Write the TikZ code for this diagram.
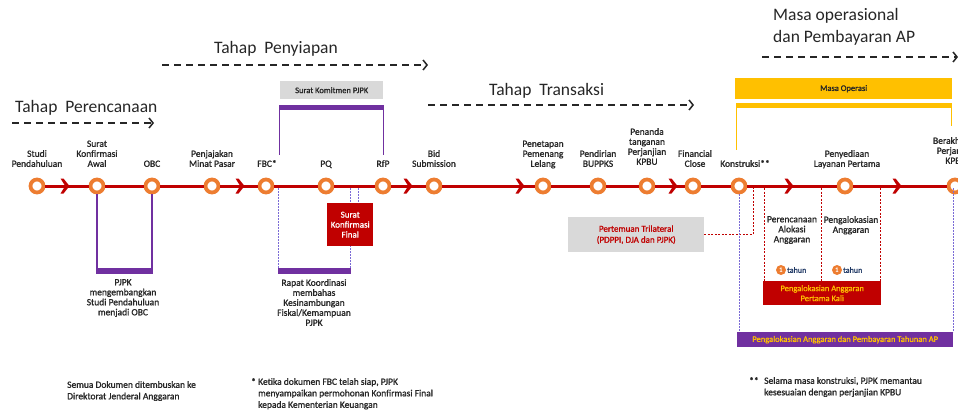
\documentclass[tikz,border=0pt]{standalone}
\usepackage{fontspec}
\setmainfont{Carlito}
\newfontfamily\labelfont[FakeBold=1.2]{Carlito}
\usetikzlibrary{arrows.meta}

\definecolor{ringorange}{HTML}{ED7D31}
\definecolor{linered}{HTML}{C00000}
\definecolor{purp}{HTML}{7030A0}
\definecolor{dotpurp}{HTML}{7B6BD6}
\definecolor{gold}{HTML}{FFC000}
\definecolor{greybox}{HTML}{D9D9D9}
\definecolor{txt}{HTML}{262626}
\definecolor{navy}{HTML}{1F3864}

\tikzset{
  chev/.pic={\fill[linered] (-4.5,-7.5) -- (-1.5,-7.5) -- (4.5,0) -- (-1.5,7.5) -- (-4.5,7.5) -- (0.2,0) -- cycle;}
}

\begin{document}
\begin{tikzpicture}[x=1pt,y=-1pt,
  milestone/.style={circle,draw=ringorange,line width=3.8pt,fill=white,minimum size=13pt,inner sep=0pt},
  steplabel/.style={anchor=south,align=center,inner sep=0pt,text depth=0pt,font=\labelfont\fontsize{9.5}{10}\selectfont,text=txt},
  note/.style={align=center,inner sep=0pt,font=\labelfont\fontsize{9.5}{10}\selectfont,text=txt},
  footnote/.style={anchor=north west,align=left,inner sep=0pt,font=\labelfont\fontsize{9.5}{11.5}\selectfont,text=txt},
  heading/.style={anchor=base west,inner sep=0pt,font=\fontsize{17.5}{21}\selectfont,text=black!85},
  phase/.style={draw=black!85,line width=1.5pt,dash pattern=on 7pt off 5pt,-{Straight Barb[length=4pt,width=10pt]}},
  timeline/.style={draw=linered,line width=3pt},
  bar/.style={inner sep=0pt,anchor=north west},
  labelbox/.style={inner sep=0pt,anchor=north west,align=center},
  purpline/.style={draw=purp,line width=1.3pt},
  goldline/.style={draw=gold,line width=1.3pt},
  purpledot/.style={draw=dotpurp,line width=0.8pt,dash pattern=on 1.6pt off 1.4pt},
  reddash/.style={draw=linered,line width=0.9pt,dash pattern=on 2pt off 1.5pt},
  badge/.style={circle,fill=ringorange,minimum size=10pt,inner sep=0pt,text=white,font=\fontsize{7}{7}\selectfont\bfseries},
  years/.style={anchor=west,inner sep=0pt,xshift=0.8pt,text=navy,font=\labelfont\fontsize{8}{9}\selectfont}
]
\useasboundingbox (0,0) rectangle (958,412);
\clip (0,0) rectangle (958,412);

% ---------- phase headings ----------
\node[heading] (hplan) at (15,112) {Tahap\ \ Perencanaan};
\node[heading] (hprep) at (214,54) {Tahap\ \ Penyiapan};
\node[heading] (htrans) at (489,95) {Tahap\ \ Transaksi};
\node[heading] (hops1) at (773,21) {Masa operasional};
\node[heading] (hops2) at (773,43) {dan Pembayaran AP};

\coordinate (planA) at (12,123);  \coordinate (planB) at (154,123);
\coordinate (prepA) at (162,65);  \coordinate (prepB) at (428,65);
\coordinate (transA) at (428,105); \coordinate (transB) at (694,105);
\coordinate (opsA) at (762,57);   \coordinate (opsB) at (958,57);
\draw[phase] (planA) -- (planB);
\draw[phase] (prepA) -- (prepB);
\draw[phase] (transA) -- (transB);
\draw[phase] (opsA) -- (opsB);

% ---------- milestones ----------
\node[milestone] (s1) at (37,186) {};
\node[milestone] (s2) at (97,186) {};
\node[milestone] (s3) at (152,186) {};
\node[milestone] (s4) at (212,186) {};
\node[milestone] (s5) at (266,186) {};
\node[milestone] (s6) at (326,186) {};
\node[milestone] (s7) at (383,186) {};
\node[milestone] (s8) at (434,186) {};
\node[milestone] (s9) at (543,186) {};
\node[milestone] (s10) at (598,186) {};
\node[milestone] (s11) at (647,186) {};
\node[milestone] (s12) at (693,186) {};
\node[milestone] (s13) at (739,186) {};
\node[milestone] (s14) at (845,186) {};
\node[milestone] (s15) at (955,186) {};

\draw[timeline] (s1) -- (s2);
\draw[timeline] (s2) -- (s3);
\draw[timeline] (s3) -- (s4);
\draw[timeline] (s4) -- (s5);
\draw[timeline] (s5) -- (s6);
\draw[timeline] (s6) -- (s7);
\draw[timeline] (s7) -- (s8);
\draw[timeline] (s8) -- (s9);
\draw[timeline] (s9) -- (s10);
\draw[timeline] (s10) -- (s11);
\draw[timeline] (s11) -- (s12);
\draw[timeline] (s12) -- (s13);
\draw[timeline] (s13) -- (s14);
\draw[timeline] (s14) -- (s15);

\foreach \cx in {65,240,408,520,673,789,897} \pic at (\cx,186) {chev};

% milestone captions
\node[steplabel] (l1) at (37,167) {Studi\\Pendahuluan};
\node[steplabel] (l2) at (97,167) {Surat\\Konfirmasi\\Awal};
\node[steplabel] (l3) at (152,167) {OBC};
\node[steplabel] (l4) at (212,167) {Penjajakan\\Minat Pasar};
\node[steplabel] (l5) at (267,167) {FBC*};
\node[steplabel] (l6) at (326,167) {PQ};
\node[steplabel] (l7) at (383,167) {RfP};
\node[steplabel] (l8) at (434,167) {Bid\\Submission};
\node[steplabel] (l9) at (543,167) {Penetapan\\Pemenang\\Lelang};
\node[steplabel] (l10) at (598,167) {Pendirian\\BUPPKS};
\node[steplabel] (l11) at (647,165) {Penanda\\tanganan\\Perjanjian\\KPBU};
\node[steplabel] (l12) at (695,167) {Financial\\Close};
\node[steplabel] (l13) at (745,167) {Konstruksi**};
\node[steplabel] (l14) at (847,167) {Penyediaan\\Layanan Pertama};
\node[steplabel] (l15) at (956,164) {Berakhirnya\\Perjanjian\\KPBU};

% ---------- Surat Komitmen PJPK bracket ----------
\node[labelbox,fill=greybox,minimum width=103pt,minimum height=18pt,font=\labelfont\fontsize{8.5}{10}\selectfont,text=txt] (komitmen) at (280,81) {Surat Komitmen PJPK};
\node[bar,fill=purp,minimum width=105pt,minimum height=5pt] (komitbar) at (279,105) {};
\draw[purpline] ([xshift=0.65pt]komitbar.south west) -- ++(0,45);
\draw[purpline] ([xshift=-0.65pt]komitbar.south east) -- ++(0,45);

% ---------- Masa Operasi bracket ----------
\node[labelbox,fill=gold,minimum width=217pt,minimum height=21pt,font=\labelfont\fontsize{8.5}{10}\selectfont,text=txt] (masabox) at (735,78) {Masa Operasi};
\node[bar,fill=gold,minimum width=216pt,minimum height=5pt] (masabar) at (736,103) {};
\draw[goldline] ([xshift=0.65pt]masabar.south west) -- ++(0,42);
\draw[goldline] ([xshift=-0.65pt]masabar.south east) -- ++(0,18);

% ---------- OBC development bracket ----------
\node[bar,fill=purp,minimum width=57pt,minimum height=6pt] (pjpkbar) at (96,268) {};
\draw[purpline] (s2.south) -- (s2.south |- pjpkbar.north);
\draw[purpline] (s3.south) -- (s3.south |- pjpkbar.north);
\node[note,anchor=north] (pjpknote) at (123,279) {PJPK\\mengembangkan\\Studi Pendahuluan\\menjadi OBC};

% ---------- fiscal coordination bracket ----------
\node[bar,fill=purp,minimum width=73pt,minimum height=6pt] (fbcbar) at (278,268) {};
\coordinate (fbcdrop) at (278.5,188);
\coordinate (pqdropA) at (350.5,188);
\coordinate (pqdropB) at (358,188);
\draw[purpledot] (fbcdrop) -- (fbcdrop |- fbcbar.north);
\draw[purpledot] (pqdropA) -- (pqdropA |- fbcbar.north);
\node[labelbox,fill=linered,minimum width=46pt,minimum height=43pt,text=white,font=\labelfont\fontsize{9}{10}\selectfont] (konfirm) at (327,203) {Surat\\Konfirmasi\\Final};
\draw[purpledot] (pqdropB) -- (pqdropB |- konfirm.north);
\node[note,anchor=north] (rapatnote) at (314,279) {Rapat Koordinasi\\membahas\\Kesinambungan\\Fiskal/Kemampuan\\PJPK};

% ---------- trilateral meeting ----------
\node[labelbox,fill=greybox,minimum width=136pt,minimum height=35pt,text=linered,font=\labelfont\fontsize{9}{11}\selectfont] (trilat) at (568,217) {Pertemuan Trilateral\\(PDPPI, DJA dan PJPK)};
\coordinate (trtop) at (753,188);
\draw[reddash] (trilat.east) -| (trtop);

% ---------- annual budgeting ----------
\node[labelbox,fill=purp,minimum width=216pt,minimum height=15pt,text=gold,font=\labelfont\fontsize{8.5}{10}\selectfont] (annualbar) at (737,332) {Pengalokasian Anggaran dan Pembayaran Tahunan AP};
\coordinate (enddrop) at (953,188);
\draw[purpledot] (s13.south) -- (s13.south |- annualbar.north);
\draw[purpledot] (enddrop) -- (enddrop |- annualbar.north);

% ---------- first budget allocation ----------
\node[labelbox,fill=linered,minimum width=118pt,minimum height=24pt,text=gold,font=\labelfont\fontsize{8.5}{10}\selectfont] (firstalloc) at (763,281) {Pengalokasian Anggaran\\Pertama Kali};
\coordinate (allocA) at (764,188);
\coordinate (allocB) at (821,188);
\coordinate (allocC) at (880,188);
\draw[reddash] (allocA) -- (allocA |- firstalloc.north);
\draw[reddash] (allocB) -- (allocB |- firstalloc.north);
\draw[reddash] (allocC) -- (allocC |- firstalloc.north);
\node[note,anchor=north] (plannote) at (792,216) {Perencanaan\\Alokasi\\Anggaran};
\node[note,anchor=north] (allocnote) at (851,216) {Pengalokasian\\Anggaran};
\node[badge] (one1) at (781,270) {1};
\node[years] (yr1) at (one1.east) {tahun};
\node[badge] (one2) at (837,270) {1};
\node[years] (yr2) at (one2.east) {tahun};

% ---------- footnotes ----------
\node[footnote] (fn1) at (67,381) {Semua Dokumen ditembuskan ke\\Direktorat Jenderal Anggaran};
\node[footnote] (fn2star) at (251,378) {*};
\node[footnote] (fn2) at (258,378) {Ketika dokumen FBC telah siap, PJPK\\menyampaikan permohonan Konfirmasi Final\\kepada Kementerian Keuangan};
\node[footnote] (fn3star) at (749,377) {**};
\node[footnote] (fn3) at (764,377) {Selama masa konstruksi, PJPK memantau\\kesesuaian dengan perjanjian KPBU};
\end{tikzpicture}
\end{document}
